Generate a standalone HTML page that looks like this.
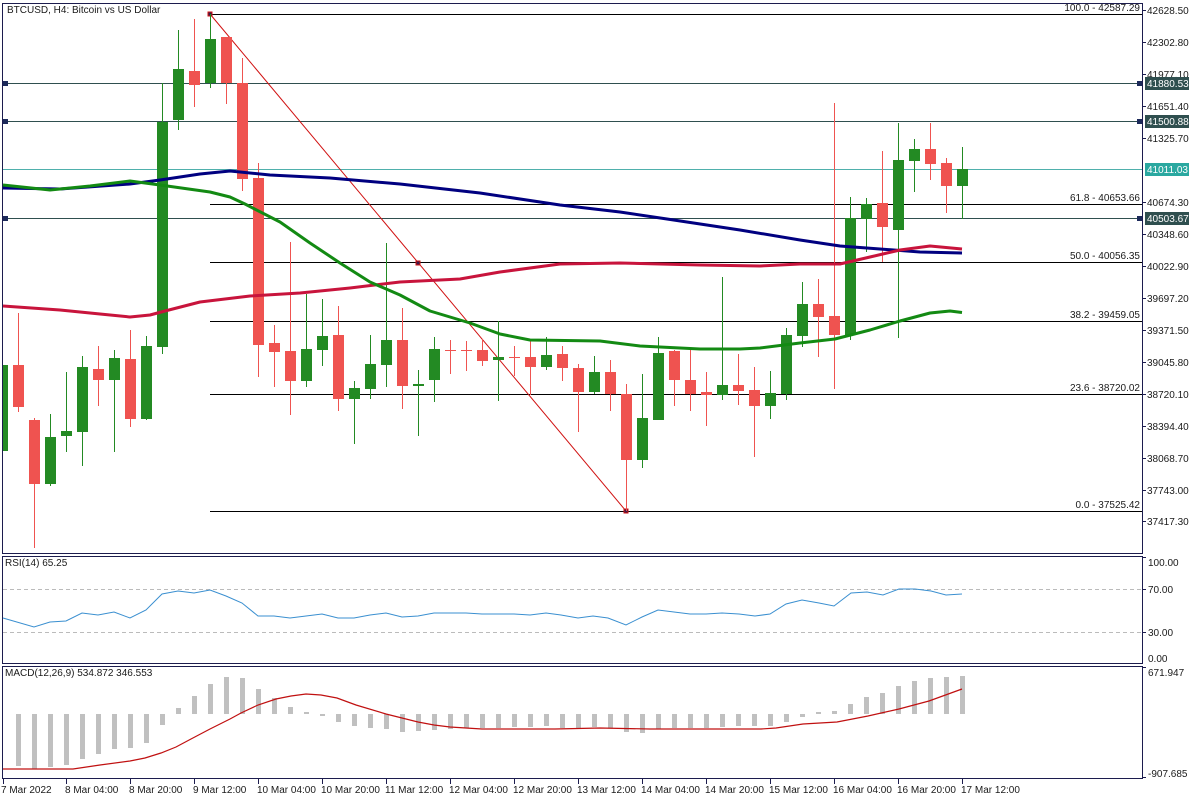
<!DOCTYPE html>
<html><head><meta charset="utf-8"><style>
html,body{margin:0;padding:0;background:#fff;}
svg{display:block;font-family:"Liberation Sans",sans-serif;}
text{font-size:10px;fill:#1a1a1a;}
</style></head><body>
<svg width="1200" height="800" viewBox="0 0 1200 800" xmlns="http://www.w3.org/2000/svg">
<rect width="1200" height="800" fill="#fff"/>
<!-- frames -->
<g fill="none" stroke="#1c1c4e" stroke-width="1">
<rect x="2.5" y="3.5" width="1140" height="550"/>
<rect x="2.5" y="556.5" width="1140" height="107"/>
<rect x="2.5" y="666.5" width="1140" height="112"/>
</g>
<!-- horizontal lines -->
<g stroke-width="1" shape-rendering="crispEdges">
<line x1="3" x2="1142" y1="83.5" y2="83.5" stroke="#2f4f4f"/>
<line x1="3" x2="1142" y1="121.5" y2="121.5" stroke="#2f4f4f"/>
<line x1="3" x2="1142" y1="169.5" y2="169.5" stroke="#4fb0ac"/>
<line x1="3" x2="1142" y1="218.5" y2="218.5" stroke="#2f4f4f"/>
<g stroke="#000">
<line x1="210" x2="1142" y1="14.5" y2="14.5"/>
<line x1="210" x2="1142" y1="204.5" y2="204.5"/>
<line x1="210" x2="1142" y1="262.5" y2="262.5"/>
<line x1="210" x2="1142" y1="321.5" y2="321.5"/>
<line x1="210" x2="1142" y1="394.5" y2="394.5"/>
<line x1="210" x2="1142" y1="511.5" y2="511.5"/>
</g>
</g>
<g fill="#1c2a5a">
<rect x="3" y="81" width="5" height="5"/><rect x="3" y="119" width="5" height="5"/><rect x="3" y="216" width="5" height="5"/>
<rect x="1137" y="81" width="5" height="5"/><rect x="1137" y="119" width="5" height="5"/><rect x="1137" y="216" width="5" height="5"/>
</g>
<!-- fib labels -->
<g text-anchor="end">
<text x="1140" y="11">100.0 - 42587.29</text>
<text x="1140" y="201">61.8 - 40653.66</text>
<text x="1140" y="259">50.0 - 40056.35</text>
<text x="1140" y="318">38.2 - 39459.05</text>
<text x="1140" y="391">23.6 - 38720.02</text>
<text x="1140" y="508">0.0 - 37525.42</text>
</g>
<!-- diagonal -->
<line x1="210" y1="14" x2="626" y2="511" stroke="#d01010" stroke-width="1"/>
<g fill="#3a1a4a" stroke="#d01010"><rect x="208" y="12" width="4" height="4"/><rect x="416" y="261" width="4" height="4"/><rect x="624" y="509" width="4" height="4"/></g>
<!-- candles -->
<path fill="none" stroke="#ef5350" d="M18.5 313V412M34.5 418V548M98.5 346V406M130.5 330V427M194.5 19V107M226.5 37V104M242.5 58V191M258.5 163V377M274.5 325V387M290.5 242V415M338.5 306V411M402.5 308V409M450.5 340V374M466.5 341V371M482.5 339V366M514.5 346V376M530.5 341V395M562.5 346V381M578.5 364V432M610.5 360V411M626.5 384V511M674.5 350V406M690.5 350V411M706.5 372V426M738.5 354V405M754.5 367V457M818.5 279V357M834.5 103V389M882.5 151V262M930.5 123V180M946.5 158V213"/>
<g fill="#ef5350">
<rect x="13" y="365" width="11" height="42"/><rect x="29" y="420" width="11" height="64"/><rect x="93" y="369" width="11" height="11"/><rect x="125" y="359" width="11" height="60"/><rect x="189" y="71" width="11" height="14"/><rect x="221" y="37" width="11" height="46"/><rect x="237" y="83" width="11" height="96"/><rect x="253" y="178" width="11" height="167"/><rect x="269" y="343" width="11" height="9"/><rect x="285" y="351" width="11" height="30"/><rect x="333" y="335" width="11" height="64"/><rect x="397" y="340" width="11" height="46"/><rect x="445" y="350" width="11" height="1"/><rect x="461" y="350" width="11" height="1"/><rect x="477" y="350" width="11" height="11"/><rect x="509" y="357" width="11" height="1"/><rect x="525" y="357" width="11" height="10"/><rect x="557" y="354" width="11" height="14"/><rect x="573" y="368" width="11" height="24"/><rect x="605" y="372" width="11" height="22"/><rect x="621" y="394" width="11" height="66"/><rect x="669" y="351" width="11" height="29"/><rect x="685" y="380" width="11" height="14"/><rect x="701" y="392" width="11" height="3"/><rect x="733" y="385" width="11" height="6"/><rect x="749" y="390" width="11" height="16"/><rect x="813" y="304" width="11" height="13"/><rect x="829" y="316" width="11" height="19"/><rect x="877" y="203" width="11" height="24"/><rect x="925" y="149" width="11" height="15"/><rect x="941" y="163" width="11" height="23"/>
</g>
<path fill="none" stroke="#238a23" d="M50.5 414V486M66.5 372V452M82.5 356V466M114.5 350V452M146.5 336V420M162.5 83V354M178.5 30V130M210.5 14V88M306.5 294V387M322.5 299V366M354.5 381V444M370.5 335V399M386.5 243V387M418.5 370V436M434.5 337V402M498.5 321V401M546.5 337V370M594.5 356V394M642.5 374V468M658.5 337V420M722.5 277V400M770.5 371V419M786.5 328V400M802.5 282V347M850.5 197V340M866.5 198V252M898.5 123V338M914.5 139V192M962.5 147V219"/>
<g fill="#238a23">
<rect x="3" y="365" width="5" height="86"/><rect x="45" y="437" width="11" height="47"/><rect x="61" y="431" width="11" height="5"/><rect x="77" y="367" width="11" height="65"/><rect x="109" y="358" width="11" height="22"/><rect x="141" y="346" width="11" height="73"/><rect x="157" y="122" width="11" height="225"/><rect x="173" y="69" width="11" height="51"/><rect x="205" y="39" width="11" height="44"/><rect x="301" y="349" width="11" height="32"/><rect x="317" y="336" width="11" height="14"/><rect x="349" y="388" width="11" height="11"/><rect x="365" y="364" width="11" height="25"/><rect x="381" y="340" width="11" height="25"/><rect x="413" y="384" width="11" height="2"/><rect x="429" y="349" width="11" height="31"/><rect x="493" y="357" width="11" height="3"/><rect x="541" y="355" width="11" height="12"/><rect x="589" y="372" width="11" height="20"/><rect x="637" y="418" width="11" height="42"/><rect x="653" y="353" width="11" height="67"/><rect x="717" y="385" width="11" height="10"/><rect x="765" y="393" width="11" height="13"/><rect x="781" y="335" width="11" height="59"/><rect x="797" y="304" width="11" height="32"/><rect x="845" y="218" width="11" height="117"/><rect x="861" y="204" width="11" height="15"/><rect x="893" y="160" width="11" height="70"/><rect x="909" y="149" width="11" height="12"/><rect x="957" y="169" width="11" height="17"/>
</g>
<!-- moving averages -->
<g fill="none" stroke-width="3" stroke-linejoin="round">
<polyline stroke="#000080" points="3,188 60,189 130,184 160,180 200,174 230,171 270,175 330,178 400,184 480,193 560,205 620,212 667,219 740,230 800,240 840,246 880,249 920,252 962,253"/>
<polyline stroke="#c8143c" points="3,306 60,310 100,314 130,317 150,315 165,311 200,302 250,296 300,293 350,288 400,282 460,279 500,272 560,264 620,263 700,265 760,266 800,264 840,264 870,257 900,250 930,246 962,249"/>
<polyline stroke="#138a13" points="3,185 50,190 90,186 130,181 160,185 210,192 230,197 245,204 280,222 310,243 340,263 370,282 400,295 430,311 470,323 500,334 530,340 600,341 640,346 700,349 740,349 760,348 800,343 835,339 870,330 900,321 930,313 950,311 962,312.5"/>
</g>
<!-- price axis -->
<g stroke="#1c1c4e"><line x1="1142" x2="1146" y1="10.5" y2="10.5"/><line x1="1142" x2="1146" y1="42.5" y2="42.5"/><line x1="1142" x2="1146" y1="74.5" y2="74.5"/><line x1="1142" x2="1146" y1="106.5" y2="106.5"/><line x1="1142" x2="1146" y1="138.5" y2="138.5"/><line x1="1142" x2="1146" y1="202.5" y2="202.5"/><line x1="1142" x2="1146" y1="234.5" y2="234.5"/><line x1="1142" x2="1146" y1="266.5" y2="266.5"/><line x1="1142" x2="1146" y1="298.5" y2="298.5"/><line x1="1142" x2="1146" y1="330.5" y2="330.5"/><line x1="1142" x2="1146" y1="362.5" y2="362.5"/><line x1="1142" x2="1146" y1="394.5" y2="394.5"/><line x1="1142" x2="1146" y1="426.5" y2="426.5"/><line x1="1142" x2="1146" y1="458.5" y2="458.5"/><line x1="1142" x2="1146" y1="490.5" y2="490.5"/><line x1="1142" x2="1146" y1="521.5" y2="521.5"/></g>
<g>
<text x="1147" y="14">42628.50</text><text x="1147" y="46">42302.80</text><text x="1147" y="78">41977.10</text><text x="1147" y="110">41651.40</text><text x="1147" y="142">41325.70</text><text x="1147" y="206">40674.30</text><text x="1147" y="238">40348.60</text><text x="1147" y="270">40022.90</text><text x="1147" y="302">39697.20</text><text x="1147" y="334">39371.50</text><text x="1147" y="366">39045.80</text><text x="1147" y="398">38720.10</text><text x="1147" y="430">38394.40</text><text x="1147" y="462">38068.70</text><text x="1147" y="494">37743.00</text><text x="1147" y="525">37417.30</text>
</g>
<rect x="1145" y="77" width="44" height="13" fill="#2f4f4f"/><text x="1147" y="87" style="fill:#fff">41880.53</text>
<rect x="1145" y="115" width="44" height="13" fill="#2f4f4f"/><text x="1147" y="125" style="fill:#fff">41500.88</text>
<rect x="1145" y="163" width="44" height="13" fill="#2aa8a0"/><text x="1147" y="173" style="fill:#fff">41011.03</text>
<rect x="1145" y="212" width="44" height="13" fill="#2f4f4f"/><text x="1147" y="222" style="fill:#fff">40503.67</text>
<text x="7" y="13">BTCUSD, H4:  Bitcoin vs US Dollar</text>
<!-- RSI -->
<g stroke="#bbb" stroke-dasharray="4,3"><line x1="3" x2="1142" y1="589.5" y2="589.5"/><line x1="3" x2="1142" y1="632.5" y2="632.5"/></g>
<text x="5" y="566">RSI(14) 65.25</text>
<polyline fill="none" stroke="#3a8fd0" stroke-width="1" points="3,618 34,627 50,622 66,621 82,613 98,615 114,612 130,618 146,610 162,594 178,591 194,593 210,590 226,596 242,603 258,616 274,616 290,618 306,616 322,614 338,618 354,618 370,615 386,613 402,617 418,616 434,613 450,613 466,613 482,614 498,614 514,614 530,615 546,613 561,615 578,618 593,616 608,618 626,625 642,617 658,610 674,612 690,614 706,614 722,613 739,614 755,616 770,614 786,604 802,600 819,603 834,606 851,593 867,592 883,595 899,589 915,589 931,591 946,595 962,594"/>
<g stroke="#1c1c4e"><line x1="1142" x2="1146" y1="557.5" y2="557.5"/><line x1="1142" x2="1146" y1="589.5" y2="589.5"/><line x1="1142" x2="1146" y1="632.5" y2="632.5"/></g>
<text x="1148" y="566">100.00</text><text x="1148" y="593">70.00</text><text x="1148" y="636">30.00</text><text x="1148" y="662">0.00</text>
<!-- MACD -->
<text x="5" y="676">MACD(12,26,9) 534.872 346.553</text>
<g fill="#c0c0c0">
<rect x="16" y="714" width="5" height="52"/><rect x="32" y="714" width="5" height="55"/><rect x="48" y="714" width="5" height="53"/><rect x="64" y="714" width="5" height="51"/><rect x="80" y="714" width="5" height="45"/><rect x="96" y="714" width="5" height="40"/><rect x="112" y="714" width="5" height="35"/><rect x="128" y="714" width="5" height="34"/><rect x="144" y="714" width="5" height="29"/><rect x="160" y="714" width="5" height="11"/><rect x="176" y="708" width="5" height="6"/><rect x="192" y="696" width="5" height="18"/><rect x="208" y="684" width="5" height="30"/><rect x="224" y="677" width="5" height="37"/><rect x="240" y="678" width="5" height="36"/><rect x="256" y="689" width="5" height="25"/><rect x="272" y="698" width="5" height="16"/><rect x="288" y="707" width="5" height="7"/><rect x="304" y="712" width="5" height="2"/><rect x="320" y="714" width="5" height="2"/><rect x="336" y="714" width="5" height="8"/><rect x="352" y="714" width="5" height="12"/><rect x="368" y="714" width="5" height="14"/><rect x="384" y="714" width="5" height="15"/><rect x="400" y="714" width="5" height="18"/><rect x="416" y="714" width="5" height="17"/><rect x="432" y="714" width="5" height="16"/><rect x="448" y="714" width="5" height="15"/><rect x="464" y="714" width="5" height="14"/><rect x="480" y="714" width="5" height="14"/><rect x="496" y="714" width="5" height="14"/><rect x="512" y="714" width="5" height="13"/><rect x="528" y="714" width="5" height="13"/><rect x="544" y="714" width="5" height="12"/><rect x="560" y="714" width="5" height="14"/><rect x="576" y="714" width="5" height="14"/><rect x="592" y="714" width="5" height="13"/><rect x="608" y="714" width="5" height="14"/><rect x="624" y="714" width="5" height="18"/><rect x="640" y="714" width="5" height="19"/><rect x="656" y="714" width="5" height="15"/><rect x="672" y="714" width="5" height="14"/><rect x="688" y="714" width="5" height="14"/><rect x="704" y="714" width="5" height="14"/><rect x="720" y="714" width="5" height="13"/><rect x="736" y="714" width="5" height="12"/><rect x="752" y="714" width="5" height="12"/><rect x="768" y="714" width="5" height="12"/><rect x="784" y="714" width="5" height="8"/><rect x="800" y="714" width="5" height="3"/><rect x="816" y="712" width="5" height="2"/><rect x="832" y="711" width="5" height="3"/><rect x="848" y="704" width="5" height="10"/><rect x="864" y="697" width="5" height="17"/><rect x="880" y="693" width="5" height="21"/><rect x="896" y="686" width="5" height="28"/><rect x="912" y="681" width="5" height="33"/><rect x="928" y="678" width="5" height="36"/><rect x="944" y="677" width="5" height="37"/><rect x="960" y="676" width="5" height="38"/>
</g>
<polyline fill="none" stroke="#c01010" stroke-width="1.2" points="3,769 73,769 100,765 130,761 145,758 161,753 176,747 191,739 210,729 230,719 241,713 258,705 276,699 291,696 306,694 321,695 337,698 356,705 386,714 402,718 418,722 434,725 450,727 466,728 482,729 555,729 600,728 650,729 761,729 776,728 803,724 837,722 868,716 899,709 929,701 962,689"/>
<g stroke="#1c1c4e"><line x1="1142" x2="1146" y1="667.5" y2="667.5"/><line x1="1142" x2="1146" y1="777.5" y2="777.5"/></g>
<text x="1148" y="676">671.947</text><text x="1148" y="777">-907.685</text>
<!-- time axis -->
<g stroke="#1c1c4e"><line x1="3.5" x2="3.5" y1="779" y2="784"/><line x1="66.5" x2="66.5" y1="779" y2="784"/><line x1="130.5" x2="130.5" y1="779" y2="784"/><line x1="194.5" x2="194.5" y1="779" y2="784"/><line x1="258.5" x2="258.5" y1="779" y2="784"/><line x1="322.5" x2="322.5" y1="779" y2="784"/><line x1="386.5" x2="386.5" y1="779" y2="784"/><line x1="450.5" x2="450.5" y1="779" y2="784"/><line x1="514.5" x2="514.5" y1="779" y2="784"/><line x1="578.5" x2="578.5" y1="779" y2="784"/><line x1="642.5" x2="642.5" y1="779" y2="784"/><line x1="706.5" x2="706.5" y1="779" y2="784"/><line x1="770.5" x2="770.5" y1="779" y2="784"/><line x1="834.5" x2="834.5" y1="779" y2="784"/><line x1="898.5" x2="898.5" y1="779" y2="784"/><line x1="962.5" x2="962.5" y1="779" y2="784"/></g>
<g>
<text x="1" y="793">7 Mar 2022</text><text x="65" y="793">8 Mar 04:00</text><text x="129" y="793">8 Mar 20:00</text><text x="193" y="793">9 Mar 12:00</text><text x="257" y="793">10 Mar 04:00</text><text x="321" y="793">10 Mar 20:00</text><text x="385" y="793">11 Mar 12:00</text><text x="449" y="793">12 Mar 04:00</text><text x="513" y="793">12 Mar 20:00</text><text x="577" y="793">13 Mar 12:00</text><text x="641" y="793">14 Mar 04:00</text><text x="705" y="793">14 Mar 20:00</text><text x="769" y="793">15 Mar 12:00</text><text x="833" y="793">16 Mar 04:00</text><text x="897" y="793">16 Mar 20:00</text><text x="961" y="793">17 Mar 12:00</text>
</g>
</svg>
</body></html>
